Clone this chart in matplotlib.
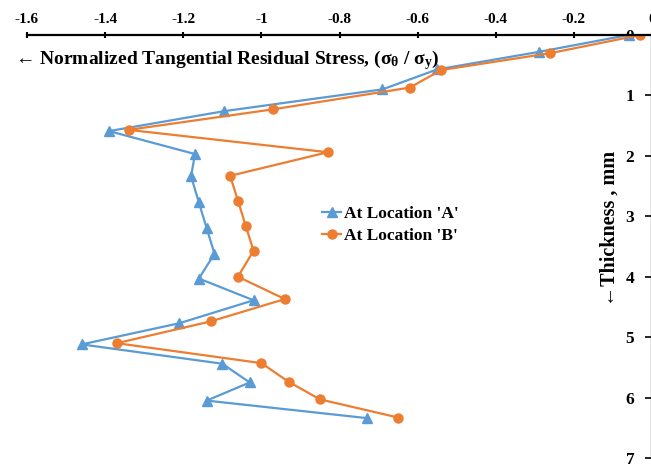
import matplotlib
matplotlib.use("Agg")
import matplotlib.pyplot as plt

# stress profiles through the wall thickness
depth_a = [0, 0.28, 0.57, 0.9, 1.26, 1.59, 1.97, 2.34, 2.77, 3.2, 3.62, 4.03, 4.39, 4.77, 5.12, 5.44, 5.75, 6.05, 6.34]
stress_a = [-0.06, -0.29, -0.55, -0.69, -1.095, -1.39, -1.17, -1.18, -1.16, -1.14, -1.12, -1.16, -1.02, -1.21, -1.46, -1.10, -1.03, -1.14, -0.73]
depth_b = [0, 0.3, 0.58, 0.87, 1.23, 1.57, 1.94, 2.33, 2.74, 3.16, 3.57, 4.0, 4.37, 4.74, 5.1, 5.43, 5.74, 6.03, 6.33]
stress_b = [-0.03, -0.26, -0.54, -0.62, -0.97, -1.34, -0.83, -1.08, -1.06, -1.04, -1.02, -1.06, -0.94, -1.13, -1.37, -1.0, -0.93, -0.85, -0.65]

xticks = [-1.6, -1.4, -1.2, -1.0, -0.8, -0.6, -0.4, -0.2, 0]
xticklabels = ['-1.6', '-1.4', '-1.2', '-1', '-0.8', '-0.6', '-0.4', '-0.2', '0']
yticks = [0, 1, 2, 3, 4, 5, 6, 7]

plt.rcParams['font.family'] = ['Liberation Serif', 'DejaVu Serif']
plt.rcParams['font.weight'] = 'bold'
plt.rcParams['mathtext.fontset'] = 'custom'
plt.rcParams['mathtext.rm'] = 'Liberation Serif:bold'
plt.rcParams['mathtext.it'] = 'Liberation Serif:bold'
plt.rcParams['mathtext.bf'] = 'Liberation Serif:bold'

fig = plt.figure(figsize=(6.51, 4.68), dpi=100)
ax = fig.add_axes([27/651, 10/468, 625/651, 423/468])

ax.plot(stress_a, depth_a, color='#5B9BD5', lw=1.6, marker='^', ms=6.5,
        label="At Location 'A'")
ax.plot(stress_b, depth_b, color='#ED7D31', lw=1.6, marker='o', ms=6.5,
        label="At Location 'B'")

ax.set_xlim(-1.6, 0)
ax.set_ylim(7, 0)

for s in ['bottom', 'left']:
    ax.spines[s].set_visible(False)
ax.spines['top'].set_linewidth(1.6)
ax.spines['right'].set_linewidth(1.6)

ax.xaxis.tick_top()
ax.set_xticks(xticks)
ax.set_xticklabels(xticklabels)
ax.tick_params(axis='x', direction='inout', length=5, width=1.5, labelsize=11, pad=4)

ax.yaxis.tick_right()
ax.set_yticks(yticks)
ax.tick_params(axis='y', direction='in', length=5, width=1.2, labelsize=12.5, pad=-19)

fig.text(15/651, 1 - 60/468,
         '← Normalized Tangential Residual Stress, ($\\mathrm{σ_θ}$ / $\\mathrm{σ_y}$)',
         fontsize=14, fontweight='bold', va='center', ha='left')
fig.text(610/651, 1 - 228/468, '←Thickness , mm', rotation=90,
         fontsize=14.5, fontweight='bold', va='center', ha='center')

ax.legend(loc='upper left', bbox_to_anchor=((322 - 27) / 625, 1 - (206 - 35) / 423),
          frameon=False, handlelength=1.1, handletextpad=0.15, borderpad=0,
          borderaxespad=0, labelspacing=0.35, prop={'size': 12.5, 'weight': 'bold'})

fig.savefig('out.png', dpi=100)
